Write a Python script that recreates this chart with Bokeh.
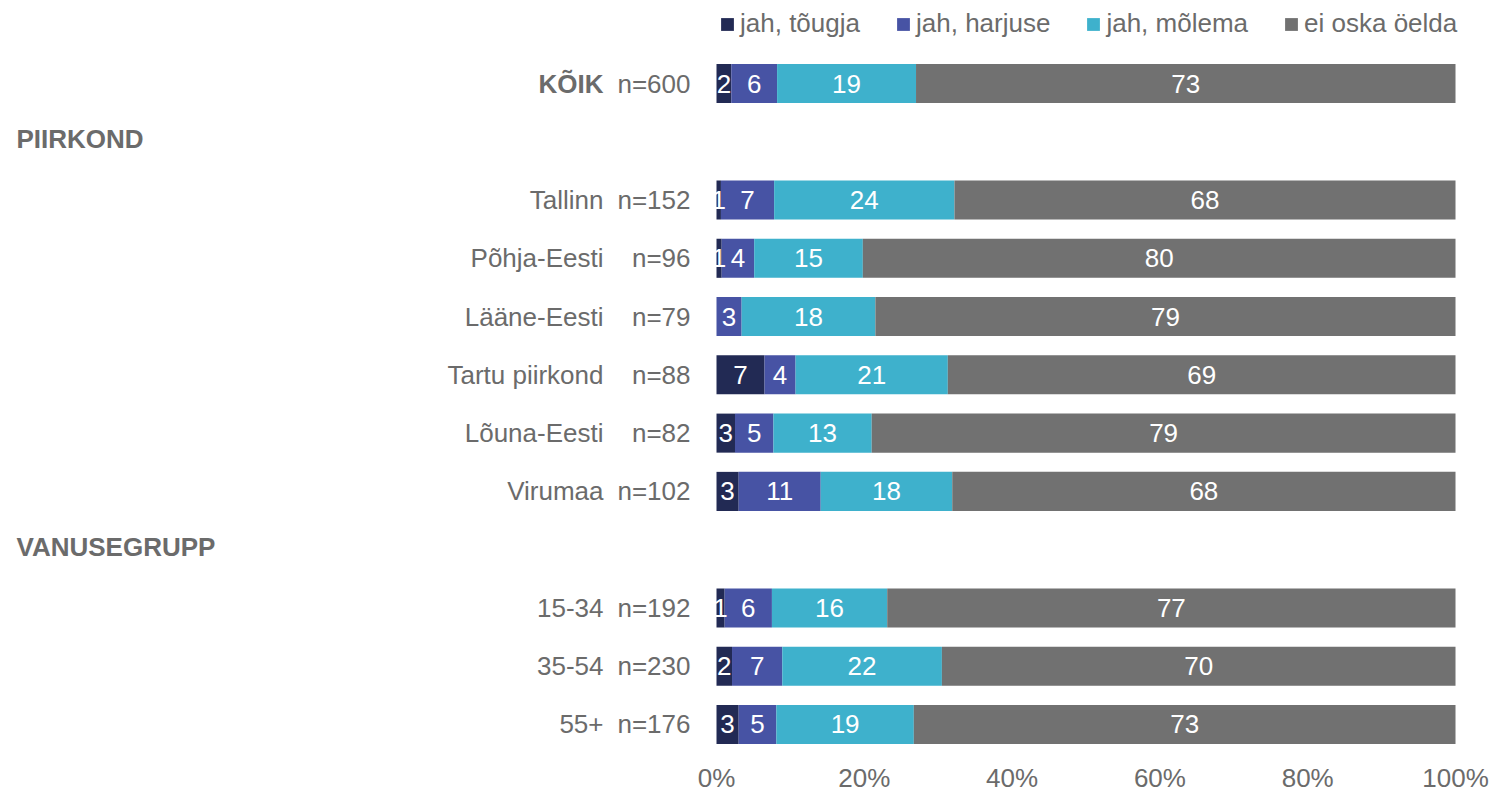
from bokeh.plotting import figure
from bokeh.models import ColumnDataSource, Range1d, FixedTicker, PrintfTickFormatter, Legend, LegendItem
from bokeh.core.properties import value
from bokeh.embed import file_html
from bokeh.resources import INLINE

# ---------------- data ----------------
series = ["tougja", "harjuse", "molema", "ei_oska"]
series_labels = ["jah, tõugja", "jah, harjuse", "jah, mõlema", "ei oska öelda"]
colors = ["#222a54", "#4753a4", "#3eb1cc", "#717171"]

row_slots = ["KÕIK", "PIIRKOND", "Tallinn", "Põhja-Eesti", "Lääne-Eesti",
             "Tartu piirkond", "Lõuna-Eesti", "Virumaa", "VANUSEGRUPP",
             "15-34", "35-54", "55+"]
headers = ["PIIRKOND", "VANUSEGRUPP"]
total_label = "KÕIK"

groups = ["KÕIK", "Tallinn", "Põhja-Eesti", "Lääne-Eesti", "Tartu piirkond",
          "Lõuna-Eesti", "Virumaa", "15-34", "35-54", "55+"]
n_sizes = [600, 152, 96, 79, 88, 82, 102, 192, 230, 176]

tougja = [2.0, 0.6, 0.7, 0.0, 6.5, 2.5, 3.0, 1.1, 2.1, 3.0]
harjuse = [6.2, 7.2, 4.4, 3.4, 4.2, 5.2, 11.1, 6.4, 6.8, 5.1]
molema = [18.8, 24.4, 14.7, 18.1, 20.6, 13.3, 17.8, 15.6, 21.6, 18.6]
ei_oska = [73.0, 67.8, 80.2, 78.5, 68.7, 79.0, 68.1, 76.9, 69.5, 73.3]

tick_values = [0, 20, 40, 60, 80, 100]

# ---------------- layout constants ----------------
W, H = 1491, 795
FRAME_H = 758          # expected frame height (x axis takes the rest)
PX_PER_UNIT_X = 7.39   # 739 px for 100 %
ZERO_X = 716           # canvas x of 0 %
SLOT_PX = 58.27        # vertical distance between rows
FIRST_ROW_Y = 83       # canvas y of first row centre

TEXT_FONT = "Liberation Sans"
TEXT_COLOR = "#6b6b6b"
FS = "26px"

# ---------------- build sources ----------------
values = {"tougja": tougja, "harjuse": harjuse, "molema": molema, "ei_oska": ei_oska}
ys = [row_slots.index(g) for g in groups]
totals = [sum(values[s][i] for s in series) for i in range(len(groups))]
data = {"y": ys, "group": groups}
for s in series:
    data[s] = [values[s][i] / totals[i] * 100 for i in range(len(groups))]
source = ColumnDataSource(data)

lab_x, lab_y, lab_t = [], [], []
for i in range(len(groups)):
    start = 0.0
    for s in series:
        v = data[s][i]
        shown = int(values[s][i] + 0.5)
        if shown > 0:
            lab_x.append(start + v / 2)
            lab_y.append(ys[i])
            lab_t.append(str(shown))
        start += v
label_source = ColumnDataSource(dict(x=lab_x, y=lab_y, text=lab_t))

x_start = -ZERO_X / PX_PER_UNIT_X
x_end = (W - ZERO_X) / PX_PER_UNIT_X
y_top = -FIRST_ROW_Y / SLOT_PX
y_bottom = (FRAME_H - FIRST_ROW_Y) / SLOT_PX

p = figure(width=W, height=H, x_range=Range1d(x_start, x_end),
           y_range=Range1d(y_bottom, y_top),
           output_backend="svg", toolbar_location=None,
           min_border_left=0, min_border_right=0, min_border_top=0, min_border_bottom=0)

renderers = p.hbar_stack(series, y="y", height=0.67, color=colors, line_color=None,
                         source=source)

# value labels inside bars
p.text(x="x", y="y", text="text", source=label_source, text_align="center",
       text_baseline="middle", text_color="white", text_font=value(TEXT_FONT),
       text_font_size=FS)

# n= labels
p.text(x=[0] * len(groups), y=ys, text=[f"n={n}" for n in n_sizes], x_offset=-26,
       text_align="right", text_baseline="middle", text_color=TEXT_COLOR,
       text_font=value(TEXT_FONT), text_font_size=FS)

# category labels
normal = [g for g in groups if g != total_label]
p.text(x=[0] * len(normal), y=[row_slots.index(g) for g in normal], text=normal,
       x_offset=-113, text_align="right", text_baseline="middle",
       text_color=TEXT_COLOR, text_font=value(TEXT_FONT), text_font_size=FS)
p.text(x=[0], y=[row_slots.index(total_label)], text=[total_label],
       x_offset=-113, text_align="right", text_baseline="middle",
       text_color=TEXT_COLOR, text_font=value(TEXT_FONT), text_font_size=FS,
       text_font_style="bold")

# section headers
p.text(x=[0] * len(headers), y=[row_slots.index(h) - 0.04 for h in headers], text=headers,
       x_offset=-700, text_align="left", text_baseline="middle",
       text_color=TEXT_COLOR, text_font=value(TEXT_FONT), text_font_size=FS,
       text_font_style="bold")

# legend
legend = Legend(items=[LegendItem(label=lab, renderers=[r])
                       for lab, r in zip(series_labels, renderers)],
                orientation="horizontal", location=(719, FRAME_H - 39),
                glyph_width=16, glyph_height=16, label_standoff=5, spacing=35,
                label_height=26, padding=0, margin=0, border_line_color=None,
                background_fill_alpha=0, label_text_font=TEXT_FONT,
                label_text_font_size=FS, label_text_color=TEXT_COLOR)
p.add_layout(legend)

# axes
p.xaxis.ticker = FixedTicker(ticks=tick_values)
p.xaxis.formatter = PrintfTickFormatter(format="%d%%")
p.xaxis.axis_line_color = None
p.xaxis.major_tick_line_color = None
p.xaxis.minor_tick_line_color = None
p.xaxis.major_tick_out = 0
p.xaxis.major_tick_in = 0
p.xaxis.major_label_standoff = 4
p.xaxis.major_label_text_font = TEXT_FONT
p.xaxis.major_label_text_font_size = FS
p.xaxis.major_label_text_color = TEXT_COLOR
p.yaxis.visible = False
p.xgrid.visible = False
p.ygrid.visible = False
p.outline_line_color = None

open("out.html", "w").write(file_html(p, INLINE))
